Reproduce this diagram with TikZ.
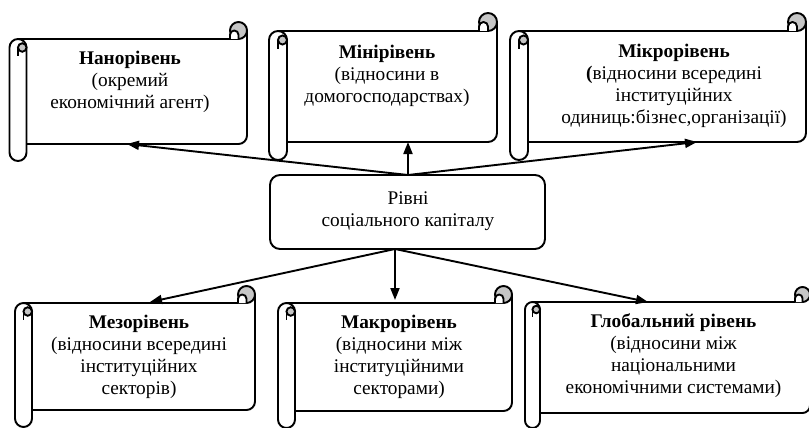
\documentclass[tikz,border=0pt]{standalone}
\usepackage{fontspec}
\setmainfont{Liberation Serif}
\usetikzlibrary{arrows.meta}
\tikzset{
  lw/.style={line width=1.9pt},
  conn/.style={lw, -{Triangle[length=12pt,width=9pt]}},
  txt/.style={align=center, inner sep=0pt, font=\fontsize{19.3}{22}\selectfont},
  centerbox/.style={draw, lw, rounded corners=10pt, fill=white}
}
\newcommand\scrollshape[5]{%
  \pgfmathsetmacro\Xa{#1}\pgfmathsetmacro\Ya{#2}%
  \pgfmathsetmacro\Xb{#3}\pgfmathsetmacro\Yb{#4}%
  \pgfmathsetmacro\C{#5}\pgfmathsetmacro\Ch{#5/2}\pgfmathsetmacro\Cq{#5/4}%
  \fill[white] (\Xa+\Ch,\Ya+\C) rectangle (\Xb,\Yb-\C);
  \draw[lw, line join=round] (\Xa+\Ch,\Ya+\C) -- (\Xb-\Ch,\Ya+\C);
  \draw[lw, line join=round] (\Xb,\Ya+\Ch) -- (\Xb,\Yb-\C-\Ch)
     arc[start angle=0,end angle=90,radius=\Ch] -- (\Xa+\C,\Yb-\C);
  % right curl
  \draw[lw, fill=gray!45] (\Xb-\Ch,\Ya+\Ch) circle[radius=\Ch];
  \draw[lw, fill=white, line join=round] (\Xb-\C,\Ya+\C) -- (\Xb-\C,\Ya+\C*0.75)
     arc[start angle=180,end angle=360,radius=\Cq] -- (\Xb-\Ch,\Ya+\C);
  % left roll
  \draw[lw, fill=white] (\Xa,\Yb-\Ch) -- (\Xa,\Ya+\C+\Ch)
     arc[start angle=180,end angle=360,radius=\Ch] -- (\Xa+\C,\Yb-\Ch)
     arc[start angle=0,end angle=180,radius=\Ch] -- cycle;
  \draw[lw, fill=gray!45] (\Xa+\C-\Cq,\Ya+\C+\Ch) circle[radius=\Cq];
  \draw[lw] (\Xa+\Ch,\Ya+\C+\Ch) -- (\Xa+\Ch,\Ya+2*\C);
}
\begin{document}
\begin{tikzpicture}[x=1pt,y=-1pt]
\useasboundingbox (0,0) rectangle (809,428);
\fill[white] (0,0) rectangle (809,428);

% scrolls
\scrollshape{9.5}{22}{247}{161}{17}
\scrollshape{269}{13}{497}{160}{18}
\scrollshape{510}{13}{806}{160}{18}
\scrollshape{15}{286}{255}{427}{17}
\scrollshape{278}{286}{512}{428}{17}
\scrollshape{525}{287}{810}{428}{15}

% texts
\node[txt] (nano) at (130,82) {\textbf{Нанорівень}\\(окремий\\економічний агент)};
\node[txt] (mini) at (387,76) {\textbf{Мінірівень}\\(відносини в\\домогосподарствах)};
\node[txt] (mikro) at (674,86) {\textbf{Мікрорівень}\\\textbf{(}відносини всередині\\інституційних\\одиниць:бізнес,організації)};
\node[txt] (mezo) at (139,357) {\textbf{Мезорівень}\\(відносини всередині\\інституційних\\секторів)};
\node[txt] (makro) at (399,357) {\textbf{Макрорівень}\\(відносини між\\інституційними\\секторами)};
\node[txt] (glob) at (673.5,356) {\textbf{Глобальний рівень}\\(відносини між\\національними\\економічними системами)};

% center
\node[centerbox, minimum width=275pt, minimum height=74pt] (rivni) at (407.5,212) {};
\node[txt] (rivnitxt) at (408,211) {Рівні\\соціального капіталу};

\coordinate (ctop) at (408,175);
\coordinate (cbot) at (395,249);
\coordinate (t1) at (127,144);
\coordinate (t2) at (408,142);
\coordinate (t3) at (697,142);
\coordinate (t4) at (150,302);
\coordinate (t5) at (395,300);
\coordinate (t6) at (648,302);

\draw[conn] (ctop) -- (t1);
\draw[conn] (ctop) -- (t2);
\draw[conn] (ctop) -- (t3);
\draw[conn] (cbot) -- (t4);
\draw[conn] (cbot) -- (t5);
\draw[conn] (cbot) -- (t6);
\end{tikzpicture}
\end{document}
